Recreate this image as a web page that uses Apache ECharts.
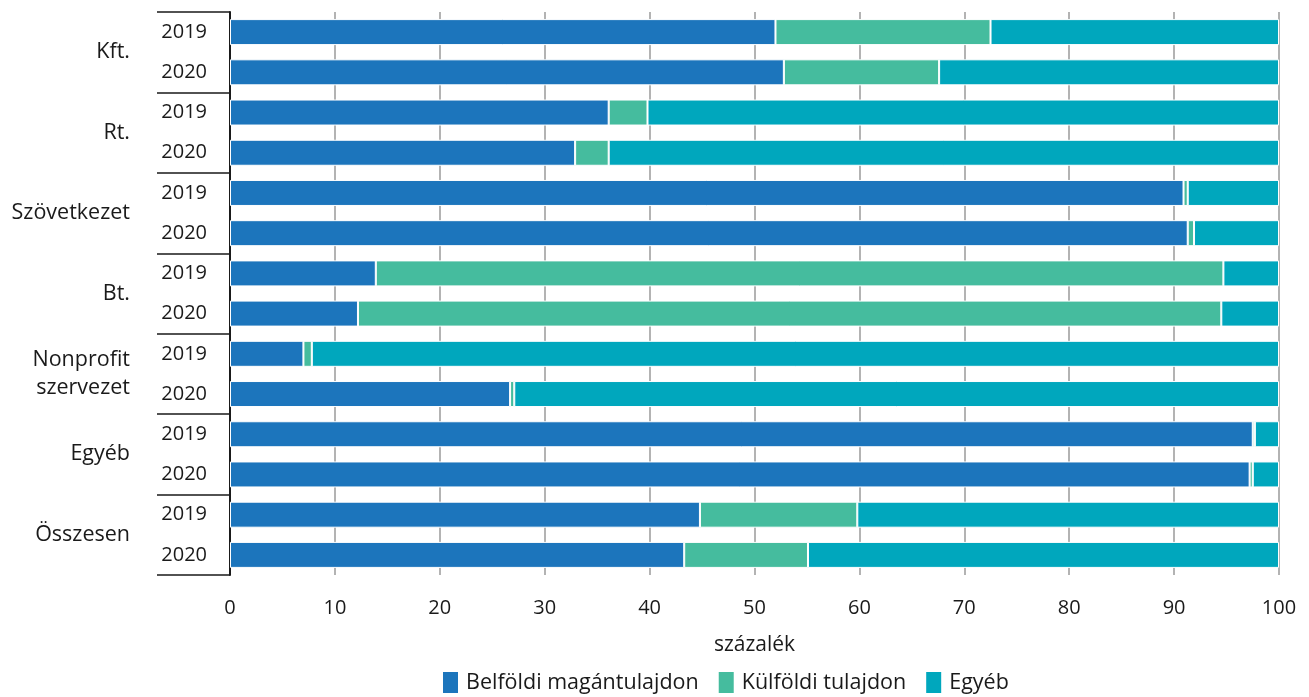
<!DOCTYPE html>
<html>
<head>
<meta charset="utf-8">
<script src="https://cdn.jsdelivr.net/npm/echarts@6/dist/echarts.min.js"></script>
<style>
html,body{margin:0;padding:0;background:#fff;}
#chart{width:1309px;height:697px;}
</style>
</head>
<body>
<div id="chart"></div>
<script>
const groups = ['Kft.', 'Rt.', 'Szövetkezet', 'Bt.', 'Nonprofit\nszervezet', 'Egyéb', 'Összesen'];
const years = ['2019', '2020', '2019', '2020', '2019', '2020', '2019', '2020', '2019', '2020', '2019', '2020', '2019', '2020'];
const belfoldi = [52.0, 52.8, 36.1, 32.9, 90.9, 91.3, 13.9, 12.2, 7.0, 26.7, 97.5, 97.2, 44.8, 43.3];
const kulfoldi = [20.5, 14.8, 3.7, 3.2, 0.4, 0.6, 80.8, 82.3, 0.8, 0.4, 0.2, 0.3, 15.0, 11.8];
const egyeb = [27.5, 32.4, 60.2, 63.9, 8.7, 8.1, 5.3, 5.5, 92.2, 72.9, 2.3, 2.5, 40.2, 44.9];
const xTicks = [0, 10, 20, 30, 40, 50, 60, 70, 80, 90, 100];
const seriesNames = ['Belföldi magántulajdon', 'Külföldi tulajdon', 'Egyéb'];
const colors = ['#1c75bc', '#45bc9e', '#00a7bd'];

const FONT = 'Open Sans';
const chart = echarts.init(document.getElementById('chart'));
const mk = (name, data, color) => ({
  name, type: 'bar', stack: 'total', data, barWidth: 26,
  yAxisIndex: 0,
  itemStyle: { color, borderColor: '#ffffff', borderWidth: 1 }
});
chart.setOption({
  animation: false,
  textStyle: { fontFamily: FONT },
  grid: { left: 230, right: 30, top: 12, bottom: 122, containLabel: false },
  xAxis: {
    type: 'value', min: xTicks[0], max: xTicks[xTicks.length - 1], interval: 10,
    axisLine: { show: false }, axisTick: { show: false },
    axisLabel: { fontSize: 20, color: '#1a1a1a', margin: 23, fontFamily: FONT },
    splitLine: { show: true, lineStyle: { color: '#b3b3b3', width: 2 } },
    name: 'százalék', nameLocation: 'middle', nameGap: 60,
    nameTextStyle: { fontSize: 21, color: '#1a1a1a', fontFamily: FONT }
  },
  yAxis: [
    {
      type: 'category', data: years, inverse: true,
      axisLine: { show: false }, axisTick: { show: false },
      axisLabel: { fontSize: 20, color: '#1a1a1a', margin: 23, fontFamily: FONT },
      splitLine: { show: false }
    },
    {
      type: 'category', data: groups, inverse: true, position: 'left', offset: 0,
      axisLine: { show: true, lineStyle: { color: '#1a1a1a', width: 2 } },
      axisTick: { show: true, length: 73, lineStyle: { color: '#1a1a1a', width: 1.5 } },
      axisLabel: { fontSize: 21.5, color: '#1a1a1a', margin: 100, lineHeight: 28, align: 'right', fontFamily: FONT },
      splitLine: { show: false }
    }
  ],
  legend: {
    bottom: -3, left: 436, itemWidth: 17, itemHeight: 23, itemGap: 18,
    icon: 'rect',
    textStyle: { fontSize: 21.5, color: '#1a1a1a', fontFamily: FONT, padding: [0, 0, 0, 2] },
    data: seriesNames
  },
  series: [
    mk(seriesNames[0], belfoldi, colors[0]),
    mk(seriesNames[1], kulfoldi, colors[1]),
    mk(seriesNames[2], egyeb, colors[2])
  ]
});
</script>
</body>
</html>
